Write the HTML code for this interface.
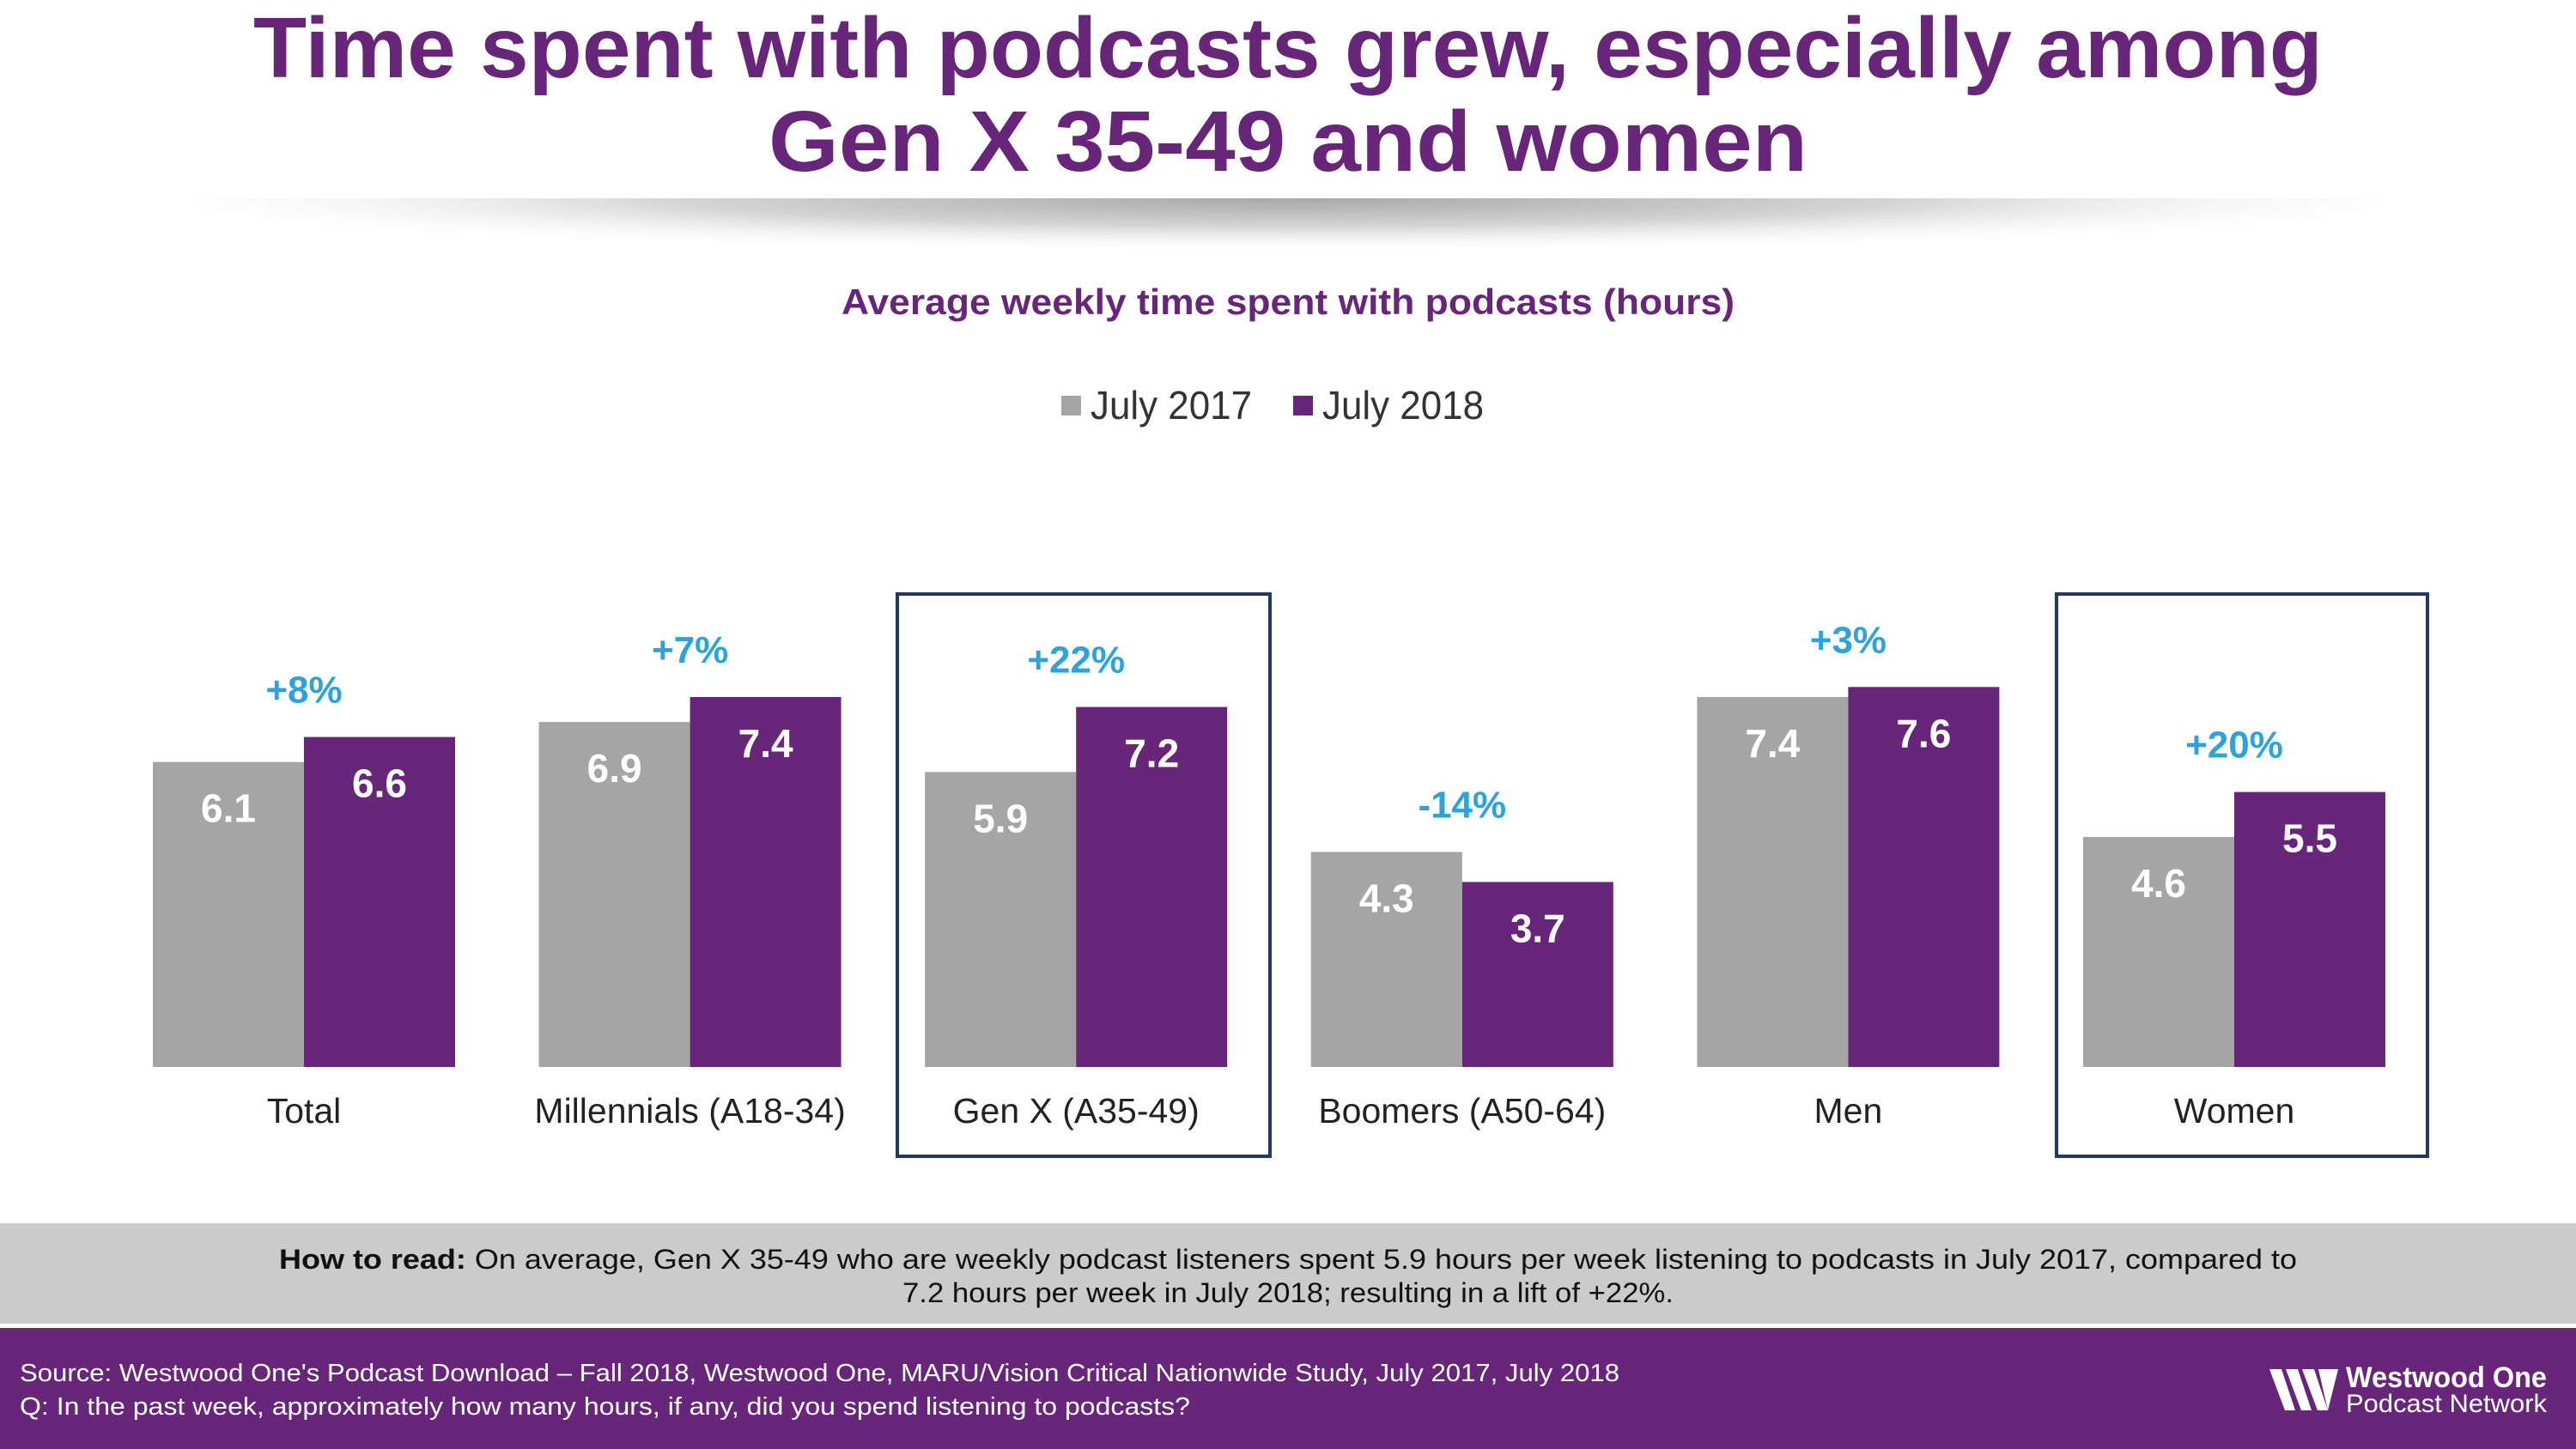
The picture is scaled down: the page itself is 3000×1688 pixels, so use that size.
<!DOCTYPE html>
<html><head><meta charset="utf-8"><style>
html,body{margin:0;padding:0;background:#fff;}
svg{display:block;font-family:"Liberation Sans",sans-serif;}
</style></head><body>
<svg width="3000" height="1688" viewBox="0 0 3000 1688" xmlns="http://www.w3.org/2000/svg">
<defs>
<radialGradient id="sh" cx="0.5" cy="0.5" r="0.5">
<stop offset="0" stop-color="#a8a8a8"/><stop offset="0.5" stop-color="#d4d4d4"/><stop offset="1" stop-color="#fff" stop-opacity="0"/>
</radialGradient>
<clipPath id="shclip"><rect x="0" y="231" width="3000" height="100"/></clipPath>
</defs>
<g clip-path="url(#shclip)">
<ellipse cx="1500" cy="231" rx="1420" ry="65" fill="url(#sh)"/>
</g>
<g fill="#68267a" font-weight="bold" font-size="100" text-anchor="middle">
<text x="1500" y="90" textLength="2410" lengthAdjust="spacingAndGlyphs">Time spent with podcasts grew, especially among</text>
<text x="1500" y="199" textLength="1210" lengthAdjust="spacingAndGlyphs">Gen X 35-49 and women</text>
</g>
<text x="1500" y="366" font-size="42" font-weight="bold" fill="#68267a" text-anchor="middle" textLength="1040" lengthAdjust="spacingAndGlyphs">Average weekly time spent with podcasts (hours)</text>
<g font-size="46" fill="#333">
<rect x="1236" y="461" width="23" height="23" fill="#a5a5a5"/>
<text x="1270" y="488" textLength="188" lengthAdjust="spacingAndGlyphs">July 2017</text>
<rect x="1506" y="461" width="23" height="23" fill="#68267a"/>
<text x="1540" y="488" textLength="188" lengthAdjust="spacingAndGlyphs">July 2018</text>
</g>
<rect x="1045" y="692" width="434" height="655" fill="none" stroke="#1f3864" stroke-width="4"/>
<rect x="2395" y="692" width="432" height="655" fill="none" stroke="#1f3864" stroke-width="4"/>
<g id="bars"></g>
<rect x="0" y="1425" width="3000" height="117" fill="#cbcbcb"/>
<g font-size="32" fill="#111" text-anchor="middle">
<text x="1500" y="1478" textLength="2350" lengthAdjust="spacingAndGlyphs"><tspan font-weight="bold">How to read:</tspan> On average, Gen X 35-49 who are weekly podcast listeners spent 5.9 hours per week listening to podcasts in July 2017, compared to</text>
<text x="1500" y="1517" textLength="898" lengthAdjust="spacingAndGlyphs">7.2 hours per week in July 2018; resulting in a lift of +22%.</text>
</g>
<rect x="0" y="1547" width="3000" height="141" fill="#68267a"/>
<g font-size="29" fill="#fff">
<text x="23" y="1609" textLength="1863" lengthAdjust="spacingAndGlyphs">Source: Westwood One's Podcast Download – Fall 2018, Westwood One, MARU/Vision Critical Nationwide Study, July 2017, July 2018</text>
<text x="23" y="1648" textLength="1363" lengthAdjust="spacingAndGlyphs">Q: In the past week, approximately how many hours, if any, did you spend listening to podcasts?</text>
</g>
<g fill="#fff">
<path d="M2643 1595 h14 l16 48 h-12 z M2662 1595 h14 l16 48 h-12 z M2681 1595 h14 l16 48 h-12 z M2700 1595 h23 l-12 48 z" />
<text x="2732" y="1616" font-size="34" font-weight="bold" textLength="234" lengthAdjust="spacingAndGlyphs">Westwood One</text>
<text x="2732" y="1645" font-size="30" textLength="234" lengthAdjust="spacingAndGlyphs">Podcast Network</text>
</g>
</svg>
<script>
const categories = ["Total","Millennials (A18-34)","Gen X (A35-49)","Boomers (A50-64)","Men","Women"];
const values2017 = [6.1,6.9,5.9,4.3,7.4,4.6];
const values2018 = [6.6,7.4,7.2,3.7,7.6,5.5];
const changeLabels = ["+8%","+7%","+22%","-14%","+3%","+20%"];
const baseY = 1243, unit = 58.25, x0 = 354, step = 449.6, bw = 176;
const NS = "http://www.w3.org/2000/svg";
const g = document.getElementById('bars');
function y(v){return baseY - v*unit;}
function cx(i){return x0 + i*step;}
function mk(tag, attrs, text){const e=document.createElementNS(NS,tag);for(const k in attrs)e.setAttribute(k,attrs[k]);if(text!==undefined)e.textContent=text;g.appendChild(e);return e;}
categories.forEach((c,i)=>{
  const c0 = cx(i);
  const r1 = mk('rect',{x:c0-bw,y:y(values2017[i]),width:bw,height:values2017[i]*unit,fill:'#a5a5a5'});
  
  
  const r2 = mk('rect',{x:c0,y:y(values2018[i]),width:bw,height:values2018[i]*unit,fill:'#68267a'});
  
  
  const t1 = mk('text',{x:c0-bw/2,y:y(values2017[i])+70,'font-size':46,'font-weight':'bold',fill:'#fff','text-anchor':'middle'},values2017[i].toFixed(1));
  
  
  const t2 = mk('text',{x:c0+bw/2,y:y(values2018[i])+70,'font-size':46,'font-weight':'bold',fill:'#fff','text-anchor':'middle'},values2018[i].toFixed(1));
  
  
  const top = Math.min(y(values2017[i]),y(values2018[i]));
  const p = mk('text',{x:c0,y:top-40,'font-size':44,'font-weight':'bold',fill:'#2ea3d9','text-anchor':'middle'},changeLabels[i]);
  
  
  const l = mk('text',{x:c0,y:1308,'font-size':41,fill:'#222','text-anchor':'middle'},c);
  
  
});
</script>
</body></html>
